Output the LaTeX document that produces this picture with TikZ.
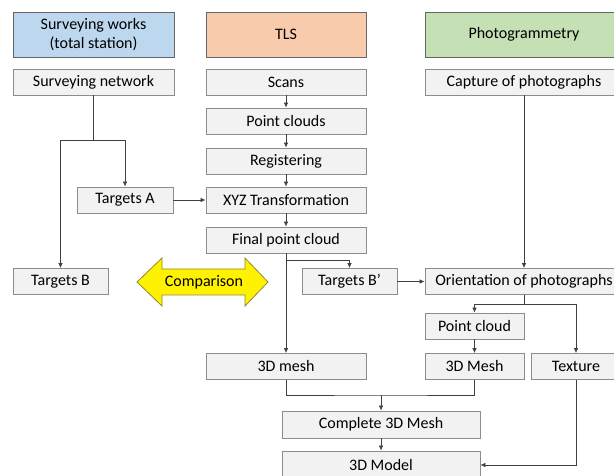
\documentclass[tikz,border=0pt]{standalone}
\usepackage{fontspec}
\setmainfont{Carlito}
\usepackage{tikz}
\usetikzlibrary{arrows.meta}
\definecolor{boxfill}{HTML}{F2F2F2}
\definecolor{boxline}{HTML}{8C8C8C}
\definecolor{linkgray}{HTML}{404040}
\definecolor{survblue}{HTML}{BDD7EE}
\definecolor{tlsorange}{HTML}{F8CBAD}
\definecolor{photogreen}{HTML}{C5E0B4}

\begin{document}
\begin{tikzpicture}[x=1pt,y=-1pt,
    box/.style={draw=boxline,fill=boxfill,line width=0.8pt,inner sep=0pt,
                minimum height=26,font=\fontsize{16}{19}\selectfont},
    headbox/.style={box,draw=gray!80!black,minimum height=45,align=center},
    link/.style={draw=linkgray,line width=0.7pt},
    arr/.style={link,-{Latex[length=5pt,width=4.5pt]}}]
            \useasboundingbox (0,0) rectangle (614,476);
            % column heads
            \node[headbox,fill=survblue,minimum width=161] (survey) at (93.5,34.5) {Surveying works\\(total station)};
            \node[headbox,fill=tlsorange,minimum width=160] (tls) at (286,34.5) {TLS};
            \node[headbox,fill=photogreen,minimum width=198] (photo) at (524,34.5) {Photogrammetry};
            % surveying
            \node[box,minimum width=161] (survnet) at (93.5,82) {Surveying network};
            \node[box,minimum width=96] (targA) at (125,200) {Targets A};
            \node[box,minimum width=95] (targB) at (60.5,281.5) {Targets B};
            % TLS
            \node[box,minimum width=160] (scans) at (286,82) {Scans};
            \node[box,minimum width=160] (pclouds) at (286,121) {Point clouds};
            \node[box,minimum width=160] (register) at (286,161) {Registering};
            \node[box,minimum width=160] (xyz) at (286,200) {XYZ Transformation};
            \node[box,minimum width=160] (final) at (286,240) {Final point cloud};
            \node[box,minimum width=95] (targBp) at (349.5,281.5) {Targets B’};
            \node[box,minimum width=160] (meshT) at (286,366.5) {3D mesh};
            % photogrammetry
            \node[box,minimum width=198] (capture) at (524,82) {Capture of photographs};
            \node[box,minimum width=198] (orient) at (524,281.5) {Orientation of photographs};
            \node[box,minimum width=99] (ptcloud) at (474.5,326) {Point cloud};
            \node[box,minimum width=99] (meshP) at (474.5,366.5) {3D Mesh};
            \node[box,minimum width=90] (texture) at (576,366.5) {Texture};
            % merge
            \node[box,minimum width=198,minimum height=27] (complete) at (381,424.5) {Complete 3D Mesh};
            \node[box,minimum width=198,minimum height=28] (model) at (381,465) {3D Model};
            % comparison arrow
            \filldraw[fill=yellow,draw=olive!70!gray,line width=0.8pt] (137,282) -- (162,258) -- (162,269) -- (245,269)
                -- (245,258) -- (268,282) -- (245,306) -- (245,295) -- (162,295) -- (162,306) -- cycle;
            \node[font=\fontsize{16}{19}\selectfont] (cmp) at (204,282) {Comparison};
            % connectors
            \coordinate (sn) at (93.5,140);
            \coordinate (fb) at (286,260);
            \coordinate (ob) at (524,304);
            \coordinate (mb) at (381,395);
            \draw[link] (survnet) -- (sn);
            \draw[arr] (sn) -| (targA.north);
            \draw[arr] (sn) -| (targB.north);
            \draw[arr] (targA) -- (xyz);
            \foreach \a/\b in {scans/pclouds,pclouds/register,register/xyz,xyz/final}
                \draw[arr] (\a) -- (\b);
            \draw[arr] (final) -- (meshT);
            \draw[arr] (fb) -| (targBp.north);
            \draw[arr] (targBp) -- (orient);
            \draw[arr] (capture) -- (orient);
            \draw[link] (orient) -- (ob);
            \draw[arr] (ob) -| (ptcloud.north);
            \draw[arr] (ob) -| (texture.north);
            \draw[arr] (ptcloud) -- (meshP);
            \draw[link] (meshT.south) |- (mb) -| (meshP.south);
            \draw[arr] (mb) -- (complete);
            \draw[arr] (complete) -- (model);
            \draw[arr] (texture.south) |- (model.east);
        \end{tikzpicture}
\end{document}
